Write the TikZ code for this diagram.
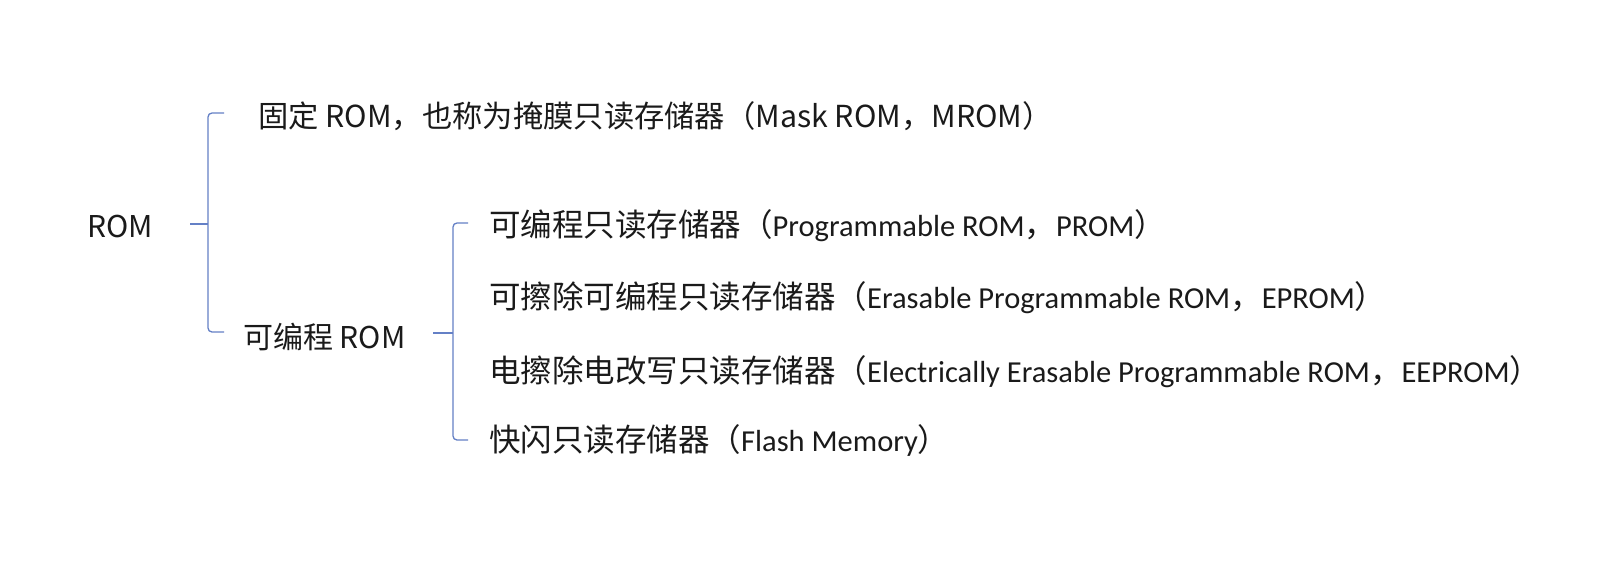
\documentclass[tikz,border=0pt]{standalone}
\usepackage{fontspec}
\setmainfont{Noto Sans CJK SC}
\newfontfamily\latfont{Carlito}
\newcommand{\la}[1]{{\latfont\fontsize{30.5}{36}\selectfont #1}}
\usepackage{tikz}
\usetikzlibrary{calc}
\definecolor{bracecol}{RGB}{100,128,198}
\definecolor{textcol}{RGB}{26,26,26}

\begin{document}
\begin{tikzpicture}[x=1pt, y=-1pt,
    every node/.style={anchor=west, inner sep=0pt, text=textcol,
        font=\fontsize{30}{36}\selectfont},
    item/.style={font=\fontsize{31.5}{36}\selectfont},
    brace/.style={draw=bracecol, line width=1.3pt, rounded corners=4pt}]
    \fill[white] (0,0) rectangle (1617,566);
    % erste Ebene
    \node (rom) at (87,226) {ROM};
    \node[font=\fontsize{30.3}{36}\selectfont] (fixed) at (258,116)
        {固定 ROM，也称为掩膜只读存储器（Mask ROM，MROM）};
    \node (prog) at (243,337) {可编程 ROM};
    % zweite Ebene
    \foreach \name/\txt/\y in {prom/可编程只读存储器（\la{Programmable ROM}，\la{PROM}）/226,
        eprom/可擦除可编程只读存储器（\la{Erasable Programmable ROM}，\la{EPROM}）/298,
        eeprom/电擦除电改写只读存储器（\la{Electrically Erasable Programmable ROM}，\la{EEPROM}）/372,
        flash/快闪只读存储器（\la{Flash Memory}）/440}
        \node[item] (\name) at (489,\y) {\txt};
    % Klammer ROM
    \coordinate (r-tick) at (190,224);
    \coordinate (r-mid) at (208,224);
    \coordinate (r-top) at (224,113);
    \coordinate (r-bot) at (224,332);
    \draw[brace] (r-top) -| (r-mid) |- (r-bot);
    \draw[brace] (r-tick) -- (r-mid);
    % Klammer programmierbar
    \coordinate (p-tick) at (433,333);
    \coordinate (p-mid) at (453,333);
    \coordinate (p-top) at (468,223);
    \coordinate (p-bot) at (468,440);
    \draw[brace] (p-top) -| (p-mid) |- (p-bot);
    \draw[brace] (p-tick) -- (p-mid);
\end{tikzpicture}
\end{document}
